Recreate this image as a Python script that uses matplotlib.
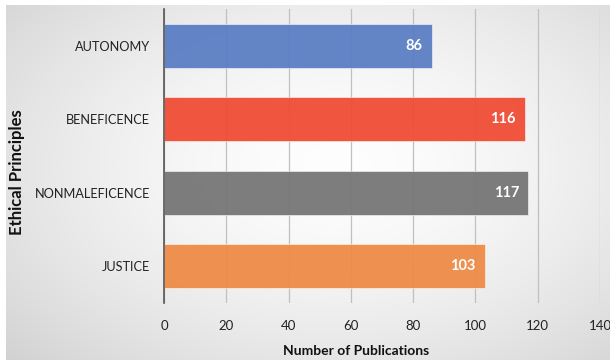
import numpy as np
import matplotlib
matplotlib.use("Agg")
import matplotlib.pyplot as plt

plt.rcParams['font.family'] = ['Lato', 'DejaVu Sans']

principles = ["AUTONOMY", "BENEFICENCE", "NONMALEFICENCE", "JUSTICE"]
publications = [86, 116, 117, 103]
bar_colors = ["#5b7fc4", "#ef4c35", "#777676", "#ee8b47"]
x_ticks = [0, 20, 40, 60, 80, 100, 120, 140]

fig = plt.figure(figsize=(6.1, 3.6), dpi=100)
fig.patch.set_facecolor("white")

# soft radial backdrop, lighter in the middle
bg = fig.add_axes([6 / 610, 0, 1 - 6 / 610, 1 - 5 / 360], zorder=-10)
yy, xx = np.mgrid[0:1:200j, 0:1:340j]
r = np.sqrt(((xx - 0.55) / 0.75) ** 2 + ((yy - 0.45) / 0.8) ** 2)
shade = np.clip(0.995 - 0.17 * r ** 1.6, 0.80, 1.0)
bg.imshow(np.dstack([shade] * 3), aspect="auto", interpolation="bilinear",
          extent=(0, 1, 0, 1))
bg.axis("off")

ax = fig.add_axes([164 / 610, 1 - 303 / 360, 436 / 610, 294 / 360])
ax.patch.set_alpha(0)

ypos = np.arange(len(principles))
bars = ax.barh(ypos, publications, height=0.6, color=bar_colors, alpha=0.95,
               edgecolor="white", linewidth=0.4, zorder=3)
for b, v in zip(bars, publications):
    ax.text(b.get_width() - 3, b.get_y() + b.get_height() / 2, str(v),
            ha="right", va="center", color="white", fontsize=10.5,
            fontweight="bold", zorder=4)

ax.set_xlim(0, 140)
ax.set_ylim(3.5, -0.5)
ax.set_xticks(x_ticks)
ax.set_yticks(ypos)
ax.set_yticklabels(principles, fontsize=9.2, color="#222222")
ax.tick_params(axis="x", length=0, pad=12, labelsize=9.5, labelcolor="#222222")
ax.tick_params(axis="y", length=0, pad=10)
ax.grid(axis="x", color="#c0c0c0", linewidth=0.9, zorder=0)
for s in ["top", "right", "bottom"]:
    ax.spines[s].set_visible(False)
ax.spines["left"].set_color("#555555")
ax.spines["left"].set_linewidth(1.2)
ax.spines["left"].set_zorder(5)

fig.text(356 / 610, 1 - 351 / 360, "Number of Publications", ha="center",
         va="center", fontsize=10, fontweight="bold", color="#111111")
fig.text(17 / 610, 1 - 172 / 360, "Ethical Principles", rotation=90,
         ha="center", va="center", fontsize=12, fontweight="bold",
         color="#111111")

fig.savefig("out.png", dpi=100)
